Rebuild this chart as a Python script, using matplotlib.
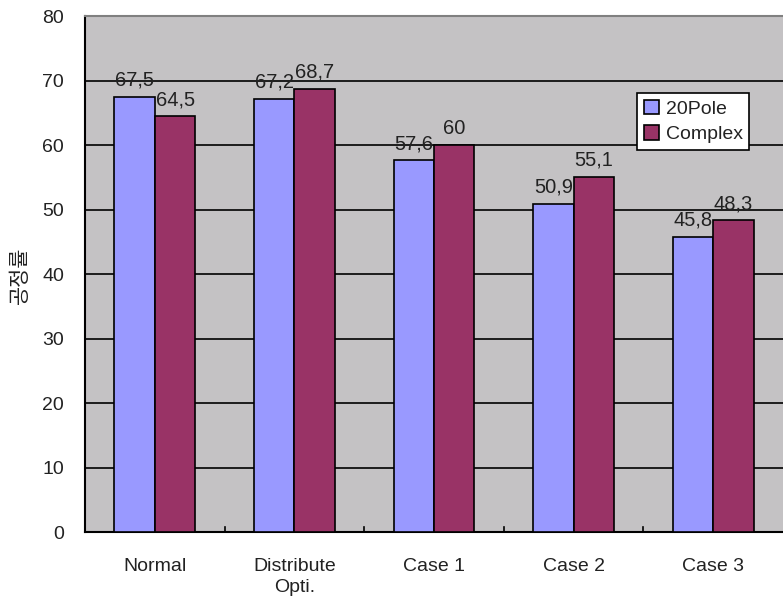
import matplotlib.pyplot as plt
import numpy as np

plt.rcParams['font.family'] = ['Liberation Sans', 'Noto Sans CJK KR']

categories = ["Normal", "Distribute\nOpti.", "Case 1", "Case 2", "Case 3"]
pole20 = [67.5, 67.2, 57.6, 50.9, 45.8]
complex_ = [64.5, 68.7, 60, 55.1, 48.3]
y_ticks = [0, 10, 20, 30, 40, 50, 60, 70, 80]

blue = "#9999FF"
wine = "#993366"
txt_col = "#222222"

fig = plt.figure(figsize=(7.83, 6), dpi=100)
ax = fig.add_axes([0.1086, 0.1133, 0.8914, 0.86])
ax.set_facecolor("#C4C2C4")

x = np.arange(len(categories))
w = 0.29
b1 = ax.bar(x - w / 2, pole20, w, color=blue, edgecolor="black", linewidth=1.2,
            label="20Pole", zorder=3)
b2 = ax.bar(x + w / 2, complex_, w, color=wine, edgecolor="black", linewidth=1.2,
            label="Complex", zorder=3)

for bars in (b1, b2):
    for r in bars:
        v = r.get_height()
        txt = f"{v:g}".replace(".", ",")
        ax.text(r.get_x() + r.get_width() / 2, v + 1.7, txt, ha="center", va="baseline",
                fontsize=14.5, color=txt_col, zorder=4)

ax.set_xlim(-0.5, len(categories) - 0.5)
ax.set_ylim(0, 80)
ax.set_yticks(y_ticks)
ax.yaxis.grid(True, color="black", linewidth=1.2, zorder=1)
ax.set_axisbelow(True)
ax.tick_params(axis="y", length=0, labelsize=14, pad=15, labelcolor=txt_col)

ax.set_xticks(x)
ax.set_xticklabels(categories, fontsize=14, color=txt_col, linespacing=1.3)
ax.tick_params(axis="x", length=0, pad=19)
# small marks between the groups
for b in np.arange(0.5, len(categories) - 1, 1.0):
    ax.plot([b, b], [0, 0.8], color="black", linewidth=1.2, zorder=4, clip_on=False)

fig.text(20 / 783, 1 - 275 / 600, "공정률", rotation=90, ha="center", va="center",
         fontsize=15, color=txt_col)

ax.spines["left"].set_color("black")
ax.spines["left"].set_linewidth(1.5)
ax.spines["bottom"].set_color("black")
ax.spines["bottom"].set_linewidth(1.5)
ax.spines["top"].set_color("#808080")
ax.spines["top"].set_linewidth(1.5)
ax.spines["right"].set_visible(False)

leg = ax.legend(loc="upper right", bbox_to_anchor=(0.952, 0.851), fontsize=14,
                frameon=True, fancybox=False, borderpad=0.35, handlelength=0.75,
                handleheight=0.75, handletextpad=0.35, labelspacing=0.4,
                borderaxespad=0)
for t in leg.get_texts():
    t.set_color(txt_col)
leg.get_frame().set_edgecolor("black")
leg.get_frame().set_linewidth(1.2)
leg.get_frame().set_facecolor("white")
leg.get_frame().set_alpha(1)

fig.savefig("out.png", dpi=100)
